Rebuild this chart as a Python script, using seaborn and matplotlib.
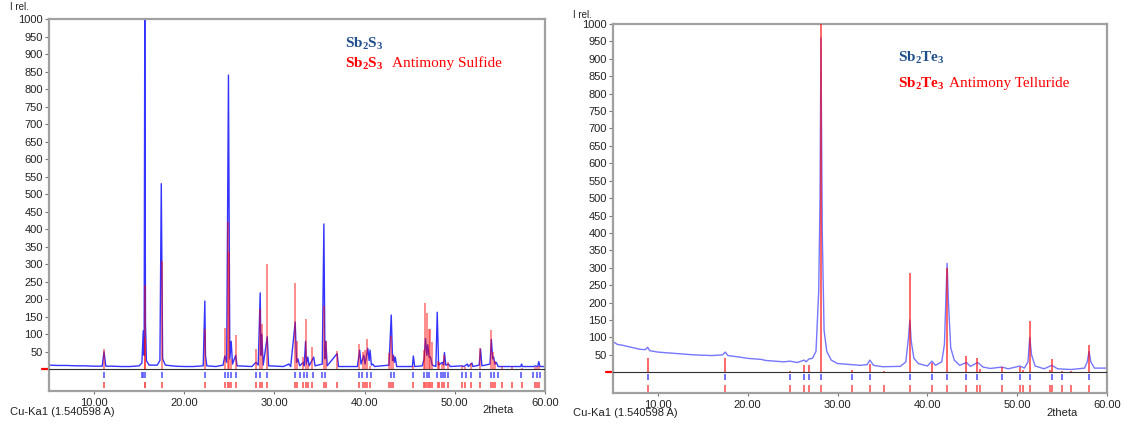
import numpy as np
import pandas as pd
import matplotlib
matplotlib.use("Agg")
import matplotlib.pyplot as plt
import matplotlib.transforms as mtrans
import seaborn as sns

# ---- Sb2S3 (left panel) ----
s_obs_x = [5.0, 6.0, 7.0, 8.0, 9.0, 10.0, 10.9, 11.1, 11.3, 12.0, 13.0, 14.0, 15.0, 15.3,
           15.45, 15.55, 15.62, 15.7, 15.8, 16.1, 17.0, 17.3, 17.45, 17.6, 17.9, 19.0, 20.0,
           21.0, 22.1, 22.28, 22.35, 22.5, 23.5, 24.3, 24.5, 24.7, 24.9, 25.05, 25.2, 25.35,
           25.7, 25.85, 27.5, 27.95, 28.2, 28.42, 28.5, 28.6, 28.75, 29.2, 29.35, 31.0, 31.6,
           31.8, 32.3, 32.45, 32.6, 32.8, 33.2, 33.3, 33.45, 33.55, 33.7, 33.85, 34.35, 34.5,
           35.3, 35.48, 35.6, 35.7, 35.85, 36.95, 37.1, 39.2, 39.45, 39.6, 39.9, 40.05, 40.35,
           40.5, 40.6, 40.75, 40.9, 41.1, 42.7, 42.95, 43.1, 43.2, 43.3, 43.4, 43.55, 45.3,
           45.4, 45.55, 46.4, 46.6, 46.75, 46.9, 47.0, 47.15, 47.3, 47.5, 47.9, 48.05, 48.2,
           48.6, 48.75, 48.85, 49.0, 49.3, 49.5, 50.8, 51.0, 51.4, 51.5, 51.9, 52.0, 52.7,
           52.85, 53.0, 53.9, 54.05, 54.2, 54.3, 54.45, 54.6, 54.8, 57.3, 57.4, 57.5, 58.8,
           58.9, 59.2, 59.3, 59.45, 60.0]
s_obs_y = [12, 11, 11, 10, 10, 9, 9, 50, 9, 9, 8, 8, 10, 18,
           110, 40, 1000, 130, 25, 12, 12, 25, 530, 30, 12, 9, 8,
           8, 10, 195, 40, 10, 8, 12, 38, 20, 840, 30, 80, 15,
           40, 10, 8, 20, 12, 218, 40, 100, 12, 93, 10, 8, 15,
           8, 135, 20, 30, 10, 20, 10, 80, 15, 35, 10, 35, 10,
           15, 415, 30, 80, 10, 45, 8, 8, 55, 15, 40, 15, 60,
           25, 55, 12, 15, 8, 12, 155, 25, 40, 20, 35, 8, 8,
           38, 8, 10, 30, 88, 40, 70, 35, 35, 12, 8, 163, 12,
           20, 12, 48, 12, 15, 8, 10, 8, 15, 8, 18, 8, 12,
           58, 10, 15, 85, 30, 35, 15, 20, 8, 8, 15, 8, 8,
           10, 8, 22, 8, 8]
# reference sticks (Antimony Sulfide)
s_ref_pos = [11.1, 15.6, 15.7, 17.5, 22.3, 24.5, 24.9, 25.0, 25.2, 25.7, 28.0, 28.45, 28.6,
             29.2, 32.25, 32.5, 33.2, 33.45, 33.7, 34.2, 35.5, 35.7, 36.9, 39.4, 39.8, 40.0,
             40.3, 40.6, 42.7, 42.9, 43.1, 45.4, 46.6, 46.7, 46.9, 47.1, 47.3, 47.5, 48.1,
             48.3, 48.6, 48.85, 49.25, 50.8, 51.1, 51.8, 52.8, 54.0, 54.2, 54.5, 55.2, 56.3,
             57.4, 58.9, 59.1, 59.3]
s_ref_int = [58, 240, 90, 310, 115, 118, 420, 335, 30, 97, 58, 172, 130,
             300, 245, 80, 35, 143, 15, 63, 180, 80, 52, 72, 50, 55,
             88, 10, 48, 95, 40, 10, 55, 188, 160, 115, 115, 78, 25,
             20, 15, 40, 20, 10, 8, 18, 62, 112, 50, 25, 8, 8,
             5, 8, 8, 10]
# peaks found in the measured pattern
s_obs_ticks = [11.1, 15.26, 15.45, 15.65, 17.5, 22.3, 24.47, 24.82, 25.14, 25.73, 28.0, 28.42,
               29.2, 32.25, 32.85, 33.24, 33.56, 34.27, 35.3, 35.6, 39.37, 39.76, 40.28, 40.75,
               42.92, 43.24, 45.41, 46.6, 46.88, 47.15, 48.06, 48.46, 48.66, 48.93, 49.25,
               50.83, 51.22, 51.82, 52.8, 54.0, 54.4, 54.8, 57.35, 58.7, 59.1, 59.4]

# ---- Sb2Te3 (right panel) ----
t_obs_x = [5.0, 5.5, 6.0, 7.0, 8.0, 8.6, 8.85, 9.1, 10.0, 12.0, 14.0, 16.0, 17.2, 17.5,
           17.8, 19.0, 20.0, 21.0, 21.5, 22.0, 24.0, 24.7, 25.5, 26.3, 26.5, 26.8, 27.2,
           27.6, 27.9, 28.05, 28.15, 28.3, 28.5, 28.8, 29.3, 30.0, 31.6, 32.5, 33.3, 33.6,
           34.0, 35.0, 37.0, 37.6, 37.9, 38.05, 38.2, 38.5, 39.0, 40.0, 40.5, 40.9, 41.6,
           41.9, 42.1, 42.2, 42.35, 42.6, 43.0, 43.6, 44.35, 44.8, 45.6, 46.2, 47.0, 48.3,
           49.0, 50.3, 50.8, 51.2, 51.4, 51.6, 52.0, 53.0, 53.85, 54.5, 56.0, 57.5, 57.8,
           58.0, 58.2, 58.6, 60.0]
t_obs_y = [88, 80, 78, 72, 66, 65, 72, 62, 58, 54, 50, 48, 50, 58,
           48, 44, 40, 38, 37, 34, 30, 32, 28, 35, 30, 38, 40,
           60, 230, 500, 960, 400, 120, 60, 35, 25, 22, 20, 22, 35,
           20, 16, 17, 30, 100, 150, 90, 40, 25, 18, 32, 20, 30,
           80, 240, 313, 200, 70, 35, 20, 28, 17, 28, 15, 11, 15,
           10, 18, 12, 30, 100, 50, 18, 10, 20, 10, 8, 12, 30,
           60, 30, 12, 12]
# reference sticks (Antimony Telluride)
t_ref_pos = [8.85, 17.45, 24.7, 26.3, 26.8, 28.15, 31.6, 33.6, 35.2, 38.05, 40.5, 42.2,
             44.35, 45.5, 45.9, 48.3, 50.3, 50.7, 51.4, 53.65, 53.85, 54.95, 55.95, 58.0]
t_ref_int = [40, 40, 5, 22, 22, 1000, 8, 25, 3, 285, 27, 300,
             48, 40, 10, 15, 15, 8, 147, 8, 38, 5, 5, 77]
t_obs_ticks = [8.85, 17.45, 24.7, 26.3, 26.8, 28.15, 31.6, 33.6, 38.05, 40.5, 42.2, 44.35,
               45.5, 48.3, 50.3, 51.4, 53.85, 54.95, 58.0]

y_ticks = list(range(50, 1001, 50))
x_ticks = [10, 20, 30, 40, 50, 60]

sns.set_style("white")
plt.rcParams["font.family"] = ["Liberation Sans", "DejaVu Sans"]

W, H = 1126, 425
fig = plt.figure(figsize=(W / 100, H / 100), dpi=100)


def px_ax(l, t, r, b):
    return fig.add_axes([l / W, 1 - b / H, (r - l) / W, (b - t) / H])


def draw_panel(ax, obs_x, obs_y, ref_pos, ref_int, obs_ticks, ymin, line_color, line_alpha,
               ref_alpha, tick_rows):
    df = pd.DataFrame({"x": obs_x, "y": obs_y})
    sns.lineplot(data=df, x="x", y="y", ax=ax, color=line_color, lw=1.0,
                 alpha=line_alpha, estimator=None, sort=False, zorder=2)
    ax.vlines(ref_pos, 0, ref_int, color="#ff0000", lw=1.4, alpha=ref_alpha, zorder=3)
    ax.axhline(0, color="#303030", lw=0.8, zorder=4)
    (b0, b1), (r0, r1) = tick_rows
    ax.vlines(obs_ticks, b0, b1, color="#5a5aff", lw=1.2, zorder=3)
    ax.vlines(ref_pos, r0, r1, color="#ff5a5a", lw=1.2, zorder=3)
    trans = mtrans.blended_transform_factory(ax.transAxes, ax.transData)
    ax.plot([-0.015, 0], [0, 0], color="#ff0000", lw=1.6, transform=trans, clip_on=False)
    ax.set_xlim(5, 60)
    ax.set_ylim(ymin, 1000)
    ax.set_xticks(x_ticks)
    ax.set_xticklabels([f"{v:.2f}" for v in x_ticks])
    ax.set_yticks(y_ticks)
    ax.set_xlabel("")
    ax.set_ylabel("")
    ax.tick_params(axis="both", labelsize=8, labelcolor="#222222", length=3, width=0.8,
                   pad=1.5, color="#777777", left=True, bottom=True)
    ax.tick_params(axis="x", length=2, pad=3)
    for sp in ax.spines.values():
        sp.set_color("#a0a0a0")
        sp.set_linewidth(1.6)


ax1 = px_ax(49, 19, 545, 390.7)
draw_panel(ax1, s_obs_x, s_obs_y, s_ref_pos, s_ref_int, s_obs_ticks, -61,
           "#1010ff", 0.85, 0.45, ((-7, -25), (-35, -54)))

ax2 = px_ax(613, 24, 1107, 392.7)
draw_panel(ax2, t_obs_x, t_obs_y, t_ref_pos, t_ref_int, t_obs_ticks, -58.6,
           "#4848ff", 0.75, 0.6, ((-5, -22), (-37, -56)))


def ftxt(x, y, s, **kw):
    fig.text(x / W, 1 - y / H, s, **kw)


for x0, yrel, ycu, xth, yth in [(10, 7, 411.7, 498, 410), (573, 15, 413, 1062, 413)]:
    ftxt(x0, yrel, "I rel.", fontsize=7, va="center", ha="left", color="#222222")
    ftxt(x0, ycu, "Cu-Ka1 (1.540598 A)", fontsize=8, va="center", ha="left", color="#222222")
    ftxt(xth, yth, "2theta", fontsize=8, va="center", ha="center", color="#222222")

plt.rcParams["mathtext.fontset"] = "custom"
plt.rcParams["mathtext.rm"] = "Liberation Serif:bold"
plt.rcParams["mathtext.it"] = "Liberation Serif:bold"
plt.rcParams["mathtext.bf"] = "Liberation Serif:bold"

serif = ["Liberation Serif", "DejaVu Serif"]
navy = "#1f4e8c"
ftxt(345, 43.6, r"Sb$_2$S$_3$", fontsize=11, family=serif, weight="bold", color=navy,
     va="center")
ftxt(345, 63.6, r"Sb$_2$S$_3$", fontsize=11, family=serif, weight="bold", color="#ff0000",
     va="center")
ftxt(392, 63.6, "Antimony Sulfide", fontsize=11, family=serif, color="#ff0000", va="center")
ftxt(898, 58, r"Sb$_2$Te$_3$", fontsize=11, family=serif, weight="bold", color=navy,
     va="center")
ftxt(898, 84, r"Sb$_2$Te$_3$", fontsize=11, family=serif, weight="bold", color="#ff0000",
     va="center")
ftxt(949, 84, "Antimony Telluride", fontsize=11, family=serif, color="#ff0000", va="center")

fig.savefig("out.png", dpi=100)
